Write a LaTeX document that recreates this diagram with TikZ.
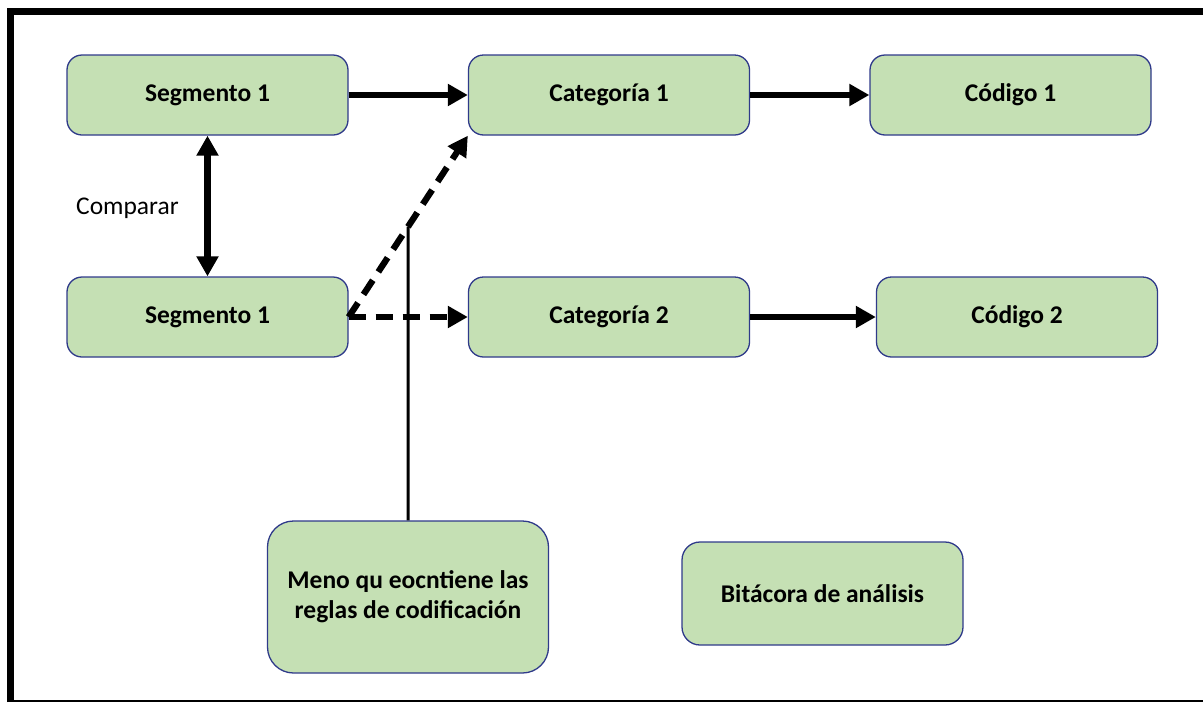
\documentclass[tikz,border=0pt]{standalone}
\usepackage{fontspec}
\setmainfont{Carlito}
\usetikzlibrary{arrows.meta,calc}
\definecolor{boxfill}{HTML}{C5E0B4}
\definecolor{boxline}{HTML}{2F3A8A}
\begin{document}
\begin{tikzpicture}[x=1pt,y=-1pt,
  box/.style={draw=boxline,line width=1.3pt,fill=boxfill,rounded corners=15pt,
    minimum width=281pt,minimum height=80pt,inner sep=0pt,align=center,
    font=\fontsize{25.5}{30}\selectfont\bfseries},
  arr/.style={line width=6.3pt,-{Triangle[length=20pt,width=21pt]}},
  dasharr/.style={arr,dash pattern=on 17pt off 10pt},
  lbl/.style={font=\fontsize{25.5}{30}\selectfont,inner sep=0pt}]
\useasboundingbox (0,0) rectangle (1203,702);
% frame
\draw[line width=7pt] (10.5,702) -- (10.5,11) -- (1203,11);
\draw[line width=2pt] (7,701) -- (1203,701);
% nodes
\node[box] (seg1) at (207.5,95) {Segmento 1};
\node[box] (cat1) at (609,95) {Categoría 1};
\node[box] (cod1) at (1010.5,95) {Código 1};
\node[box] (seg2) at (207.5,317) {Segmento 1};
\node[box] (cat2) at (609,317) {Categoría 2};
\node[box] (cod2) at (1017,317) {Código 2};
\node[box,minimum height=152pt,rounded corners=26pt] (meno) at (408,597) {Meno qu eocntiene las\\reglas de codificación};
\node[box,minimum height=103pt,rounded corners=18pt] (bit) at (822.5,593.5) {Bitácora de análisis};
\node[lbl,anchor=west] (comp) at (76,208) {Comparar};
% connectors
\draw[arr] (seg1.east) -- (cat1.west);
\draw[arr] (cat1.east) -- (cod1.west);
\draw[arr] (cat2.east) -- (cod2.west);
\draw[line width=6.3pt,{Triangle[length=20pt,width=21pt]}-{Triangle[length=20pt,width=21pt]}] (seg1.south) -- (seg2.north);
\draw[dasharr] (seg2.east) -- (cat2.west);
\draw[dasharr] (seg2.east) -- (cat1.south west);
\coordinate (m) at (intersection of seg2.east--cat1.south west and meno.north--meno.center);
\draw[line width=3pt] (meno.north) -- (m);
\end{tikzpicture}
\end{document}
